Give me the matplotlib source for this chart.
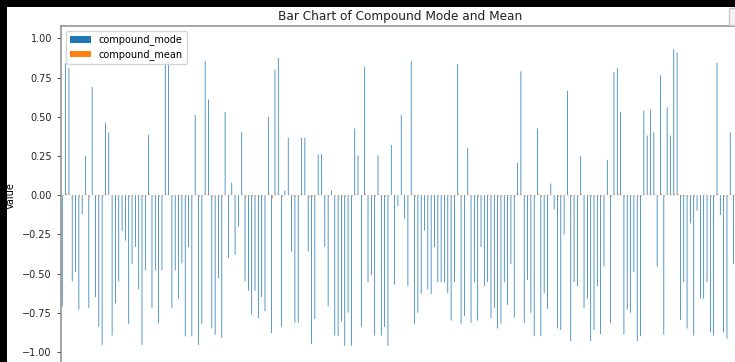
import numpy as np
import matplotlib.pyplot as plt
from matplotlib.patches import Rectangle

# most common and mean compound score per group, in group order
compound_mode = [
    -0.71, 0.84, 0.81, -0.55, -0.49, -0.73, -0.12, 0.25, -0.72, 0.69, -0.65, -0.84,
    -0.955, 0.46, 0.40, -0.895, -0.69, -0.55, -0.23, -0.29, -0.82, -0.44, -0.33, -0.60,
    -0.955, -0.48, 0.385, -0.72, -0.48, -0.815, -0.48, 0.85, 0.85, -0.72, -0.48, -0.66,
    -0.435, -0.90, -0.33, -0.90, 0.51, -0.955, -0.82, 0.855, 0.61, -0.85, -0.89, -0.53,
    -0.91, 0.53, -0.40, 0.08, -0.38, -0.20, 0.40, -0.55, -0.61, -0.76, -0.61, -0.785,
    -0.65, -0.74, 0.50, -0.88, 0.80, 0.875, -0.84, 0.03, 0.365, -0.36, -0.815, -0.815,
    0.365, 0.365, -0.36, -0.95, -0.79, 0.26, 0.26, -0.33, -0.71, 0.03, -0.895, -0.90,
    -0.805, -0.96, -0.75, -0.96, 0.425, 0.255, -0.84, 0.82, -0.555, -0.51, -0.895, 0.255,
    -0.895, -0.84, -0.96, 0.32, -0.57, -0.07, 0.51, -0.15, -0.58, 0.855, -0.82, -0.75,
    -0.63, -0.226, -0.60, -0.63, -0.33, -0.555, -0.555, -0.555, -0.625, -0.80, -0.555, 0.835,
    -0.82, -0.77, 0.30, -0.815, -0.555, -0.80, -0.33, -0.58, -0.555, -0.785, -0.72, -0.85,
    -0.82, -0.555, -0.70, -0.44, -0.78, 0.205, 0.79, -0.815, -0.54, -0.75, -0.90, 0.425,
    -0.90, -0.625, -0.725, 0.075, -0.09, -0.85, -0.86, -0.25, 0.665, -0.93, -0.555, -0.58,
    0.25, -0.72, -0.66, -0.93, -0.86, -0.58, -0.885, -0.455, 0.225, -0.815, 0.785, 0.81,
    0.53, -0.89, -0.73, -0.75, -0.49, -0.93, -0.90, 0.54, 0.38, 0.545, 0.40, -0.455,
    0.765, -0.89, 0.56, 0.38, 0.93, 0.91, -0.795, -0.555, -0.85, -0.18, -0.895, -0.10,
    -0.66, -0.66, -0.555, -0.875, -0.895, 0.845, -0.126, -0.875, -0.915, 0.40, -0.44, -0.49,
]
compound_mean = [
    -0.005, 0.01, 0.005, -0.005, 0.0, -0.01, 0.0, 0.005, -0.015, 0.005, -0.005, -0.005,
    -0.01, 0.005, 0.0, -0.005, -0.005, 0.0, 0.0, -0.005, -0.01, -0.005, 0.0, -0.005,
    -0.01, -0.005, 0.005, -0.005, 0.0, -0.01, -0.005, 0.01, 0.005, -0.005, 0.0, -0.005,
    -0.005, -0.01, 0.0, -0.005, 0.005, -0.01, -0.005, 0.01, 0.005, -0.01, -0.005, -0.005,
    -0.01, 0.005, -0.005, 0.0, -0.005, 0.0, 0.005, -0.02, -0.005, -0.01, -0.005, -0.01,
    -0.005, -0.005, 0.005, -0.02, 0.01, 0.005, -0.01, 0.0, 0.005, -0.005, -0.01, -0.005,
    0.005, 0.0, -0.02, -0.01, -0.005, 0.005, 0.0, -0.005, -0.01, 0.0, -0.005, -0.01,
    -0.01, -0.01, -0.005, -0.01, 0.005, 0.0, -0.005, 0.01, -0.005, -0.005, -0.01, 0.005,
    -0.005, -0.01, -0.01, 0.0, -0.005, 0.0, 0.005, 0.0, -0.005, 0.01, -0.01, -0.005,
    -0.005, 0.0, -0.005, -0.005, 0.0, -0.005, -0.005, -0.005, -0.005, -0.01, -0.005, 0.01,
    -0.01, -0.005, 0.005, -0.01, -0.005, -0.01, 0.0, -0.005, -0.005, -0.01, -0.005, -0.01,
    -0.01, -0.005, -0.005, -0.005, -0.01, 0.005, 0.01, -0.01, -0.005, -0.005, -0.01, 0.005,
    -0.01, -0.005, -0.005, 0.0, 0.0, -0.01, -0.01, -0.005, 0.005, -0.01, -0.005, -0.005,
    0.005, -0.005, -0.005, -0.01, -0.01, -0.005, -0.01, -0.005, 0.0, -0.01, 0.01, 0.01,
    0.005, -0.01, -0.005, -0.005, -0.005, -0.01, -0.01, 0.005, 0.005, 0.005, 0.005, -0.005,
    0.01, -0.01, 0.005, 0.005, 0.01, 0.01, -0.01, -0.005, -0.01, 0.0, -0.01, 0.0,
    -0.005, -0.005, -0.005, -0.01, -0.01, 0.01, 0.0, -0.01, -0.01, 0.005, -0.005, -0.005,
]

fig = plt.figure(figsize=(7.35, 3.62), dpi=100, facecolor='white')
# dark frame along the top and left edge
fig.patches.append(Rectangle((0, 355/362), 1, 7/362, transform=fig.transFigure,
                             facecolor='black', edgecolor='none'))
fig.patches.append(Rectangle((0, 0), 7/735, 1, transform=fig.transFigure,
                             facecolor='black', edgecolor='none'))
fig.patches.append(Rectangle((729/735, 337/362), 10/735, 17/362, transform=fig.transFigure,
                             facecolor='#f4f4f4', edgecolor='#c8c8c8', lw=1))

ax = fig.add_axes([61/735, -2.5/362, 678/735, 338.7/362])
x = np.arange(len(compound_mode))
# bars are narrower than a pixel, so keep them unsnapped and let antialiasing show them
ax.bar(x - 0.125, compound_mode, width=0.22, color='#1f77b4', linewidth=0,
       snap=False, label='compound_mode')
ax.bar(x + 0.125, compound_mean, width=0.22, color='#ff7f0e', linewidth=0,
       snap=False, label='compound_mean')
ax.set_xlim(-0.5, len(compound_mode) - 0.5)
ax.set_ylim(-1.08, 1.08)
ax.set_yticks(np.arange(-1, 1.01, 0.25))
ax.tick_params(axis='y', labelsize=7, length=3, color='#555555', labelcolor='#222222')
ax.set_xticks([])
for s in ax.spines.values():
    s.set_color('#8c8c8c')
    s.set_linewidth(1.1)
ax.set_title('Bar Chart of Compound Mode and Mean', fontsize=8.7, pad=4, color='#222222')
fig.text(11/735, 1 - 196/362, 'Value', rotation=90, fontsize=7, ha='center', va='center')
ax.legend(loc='upper left', fontsize=7, handlelength=2.2, borderpad=0.4, labelspacing=0.4)

fig.savefig('out.png', dpi=100, facecolor=fig.get_facecolor())
